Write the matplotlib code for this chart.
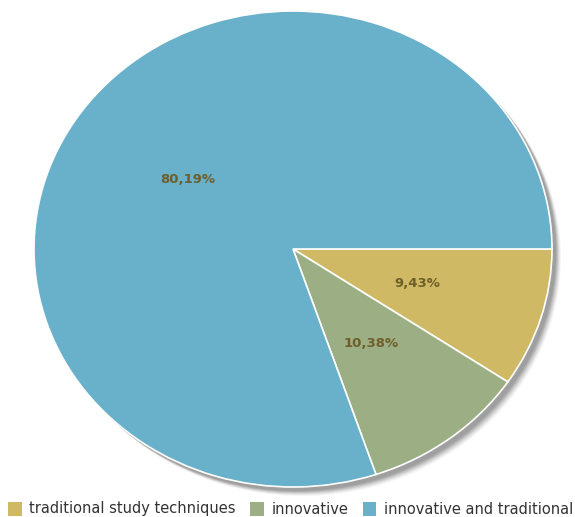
import matplotlib.pyplot as plt
from matplotlib.patches import Ellipse, Patch

labels = ["traditional study techniques", "innovative", "innovative and traditional"]
values = [9.43, 10.38, 80.19]
colors = ["#d0b964", "#9caf84", "#69b0cb"]

W, H = 575, 517
cx, cy = 293, 249          # pie centre in pixels (from top)
rx, ry = 259, 238          # horizontal / vertical radius in pixels

fig = plt.figure(figsize=(W / 100, H / 100), dpi=100)
ax = fig.add_axes([(cx - rx) / W, (H - cy - ry) / H, 2 * rx / W, 2 * ry / H])

# soft drop shadow behind the pie
for off, a in [(9, 0.08), (8, 0.12), (7, 0.18), (6, 0.25), (5, 0.35), (4, 0.4)]:
    ax.add_patch(Ellipse((off / rx, -off / ry), 2, 2, color="#8a8a8a",
                         alpha=a, lw=0, zorder=0, clip_on=False))

wedges, texts = ax.pie(values, colors=colors, startangle=0, counterclock=False,
                       labels=[f"{v:.2f}%".replace(".", ",") for v in values],
                       labeldistance=0.5,
                       wedgeprops=dict(edgecolor="white", linewidth=1.2),
                       textprops=dict(color="#6e5f2a", fontsize=9.5, fontweight="bold",
                                      ha="center", va="center"))
for w in wedges:
    w.set_zorder(2)
ax.set_aspect("auto")
ax.set_xlim(-1, 1)
ax.set_ylim(-1, 1)
ax.axis("off")

handles = [Patch(facecolor=c, edgecolor="none") for c in colors]
fig.legend(handles, labels, loc="center", bbox_to_anchor=(0.505, 8 / H), ncol=3,
           frameon=False, fontsize=10.5, handlelength=0.95, handleheight=1.1,
           handletextpad=0.5, columnspacing=1.0, labelcolor="#333333",
           borderaxespad=0, borderpad=0)

fig.savefig("out.png", dpi=100)
